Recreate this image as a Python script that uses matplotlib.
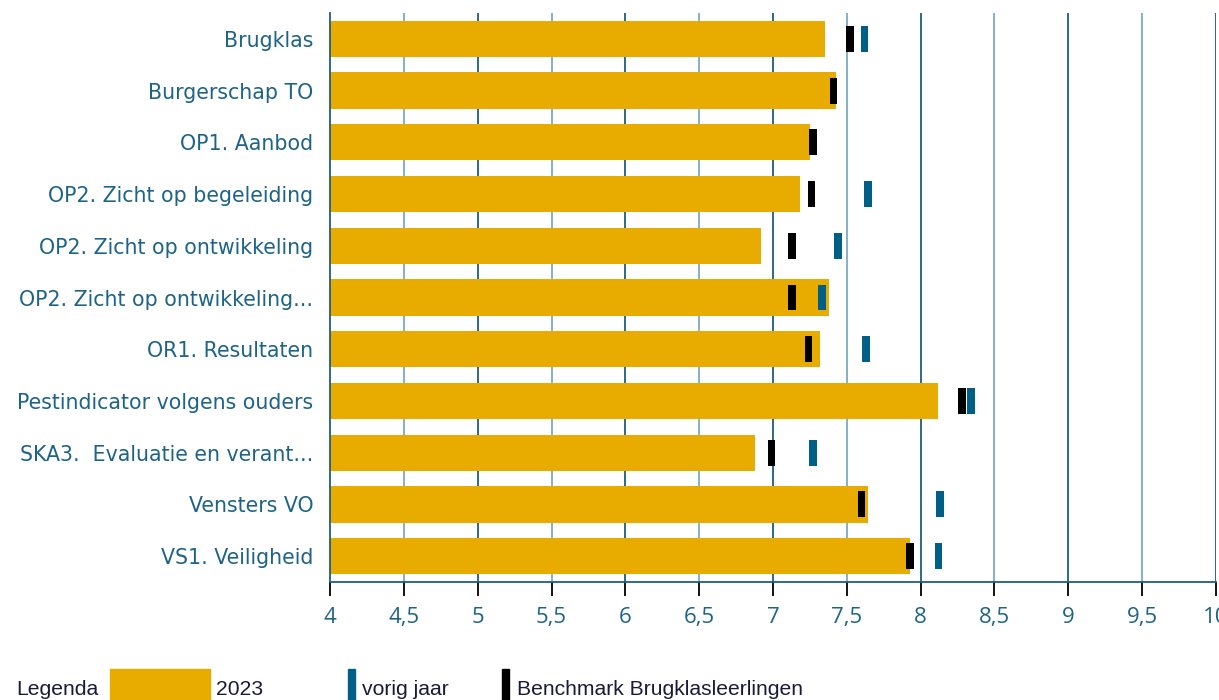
import matplotlib
matplotlib.use("Agg")
import matplotlib.pyplot as plt
from matplotlib.patches import Rectangle

categories = ["Brugklas", "Burgerschap TO", "OP1. Aanbod", "OP2. Zicht op begeleiding",
              "OP2. Zicht op ontwikkeling", "OP2. Zicht op ontwikkeling...", "OR1. Resultaten",
              "Pestindicator volgens ouders", "SKA3.  Evaluatie en verant...", "Vensters VO",
              "VS1. Veiligheid"]
score_2023 = [7.35, 7.43, 7.25, 7.18, 6.92, 7.38, 7.32, 8.12, 6.88, 7.64, 7.93]
vorig_jaar = [7.62, None, None, 7.645, 7.44, 7.33, 7.63, 8.34, 7.27, 8.13, 8.12]
benchmark = [7.52, 7.41, 7.27, 7.26, 7.13, 7.13, 7.24, 8.28, 6.99, 7.60, 7.93]
xticks = [4, 4.5, 5, 5.5, 6, 6.5, 7, 7.5, 8, 8.5, 9, 9.5, 10]
xticklabels = ["4", "4,5", "5", "5,5", "6", "6,5", "7", "7,5", "8", "8,5", "9", "9,5", "10"]

BAR = "#E8AB00"
BLUE = "#005F87"
BLACK = "#000000"
DARK = "#1D5E82"
LIGHT = "#7AAAC5"
TXT = "#1E6388"

fig = plt.figure(figsize=(12.19, 7.0), dpi=100)
ax = fig.add_axes([330 / 1219, 1 - 582 / 700, (1216 - 330) / 1219, (582 - 13) / 700])

y = list(range(len(categories)))
ax.barh(y, [v - 4 for v in score_2023], left=4, height=0.70, color=BAR, zorder=2)

mw = 0.052
mh = 0.50
for i, v in enumerate(vorig_jaar):
    if v is not None:
        ax.barh(i, mw, left=v - mw / 2, height=mh, color=BLUE, zorder=3)
for i, v in enumerate(benchmark):
    if v is not None:
        ax.barh(i, mw, left=v - mw / 2, height=mh, color=BLACK, zorder=4)

ax.set_xlim(4, 10)
ax.set_ylim(10.5, -0.5)

for t in xticks:
    col = DARK if float(t).is_integer() else LIGHT
    if t != 4:
        ax.axvline(t, color=col, lw=1.3, zorder=1)

ax.set_xticks(xticks)
ax.set_xticklabels(xticklabels, fontsize=16, color=TXT, family="Open Sans")
for t, tick in zip(xticks, ax.xaxis.get_major_ticks()):
    col = DARK if float(t).is_integer() else LIGHT
    tick.tick1line.set_color(col)
ax.tick_params(axis="x", length=10, width=1.3, pad=8)

ax.set_yticks(y)
ax.set_yticklabels(categories, fontsize=14.8, color=TXT, family="DejaVu Sans")
ax.tick_params(axis="y", length=0, pad=12)

for s in ["top", "right"]:
    ax.spines[s].set_visible(False)
ax.spines["left"].set_color(DARK)
ax.spines["left"].set_linewidth(1.3)
ax.spines["bottom"].set_color(DARK)
ax.spines["bottom"].set_linewidth(1.3)

# legend
H = 700.0
W = 1219.0
def fx(px):
    return px / W
def fy(py):
    return 1 - py / H

lfont = dict(fontsize=15.2, color="#1a1a3a", family="Liberation Sans", va="baseline")
fig.text(fx(16), fy(695), "Legenda", **lfont)
fig.patches.append(Rectangle((fx(110), fy(702)), fx(100), 33 / H, transform=fig.transFigure,
                             color=BAR, figure=fig))
fig.text(fx(216), fy(695), "2023", **lfont)
fig.patches.append(Rectangle((fx(348), fy(702)), fx(7), 33 / H, transform=fig.transFigure,
                             color=BLUE, figure=fig))
fig.text(fx(362), fy(695), "vorig jaar", **lfont)
fig.patches.append(Rectangle((fx(502), fy(702)), fx(7), 33 / H, transform=fig.transFigure,
                             color=BLACK, figure=fig))
fig.text(fx(517), fy(695), "Benchmark Brugklasleerlingen", **lfont)

fig.savefig("out.png", dpi=100)
